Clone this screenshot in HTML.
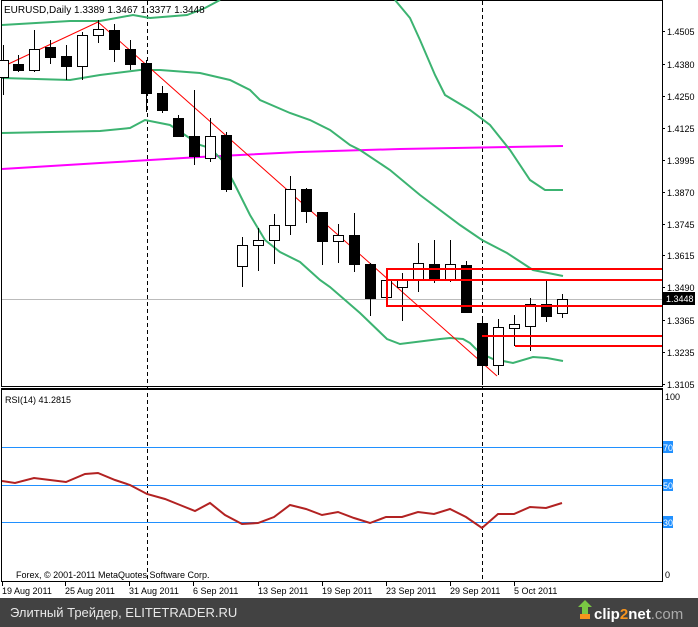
<!DOCTYPE html>
<html><head><meta charset="utf-8"><style>
html,body{margin:0;padding:0;background:#fff;}
svg{display:block;font-family:"Liberation Sans","DejaVu Sans",sans-serif;}
</style></head><body>
<svg width="698" height="627" viewBox="0 0 698 627" xmlns="http://www.w3.org/2000/svg">
<rect width="698" height="627" fill="#fff"/>
<!-- borders -->
<rect x="1.5" y="0.5" width="661" height="386" fill="none" stroke="#000"/>
<line x1="1" y1="388.5" x2="663" y2="388.5" stroke="#000"/>
<rect x="1.5" y="389.5" width="661" height="192" fill="none" stroke="#000"/>
<!-- gray current price -->
<line x1="2" y1="299.5" x2="662" y2="299.5" stroke="#bbb"/>
<!-- dashed verticals -->
<g stroke="#000" stroke-dasharray="4,3">
<line x1="147.5" y1="1" x2="147.5" y2="581"/>
<line x1="482.5" y1="1" x2="482.5" y2="581"/>
</g>
<!-- magenta -->
<polyline points="2,169 100,163 200,157 300,152 400,149 563,146" fill="none" stroke="#f0f" stroke-width="2"/>
<!-- green bands -->
<g fill="none" stroke="#3cb371" stroke-width="2">
<polyline points="2,25 70,21 100,21 133,15 150,18 187,15 205,8 220,0"/>
<polyline points="395,0 410,18 420,40 435,75 445,95 470,110 490,125 510,150 530,180 545,190 563,190"/>
<polyline points="2,78 70,80 100,75 140,70 160,70 200,73 230,80 250,90 260,100 290,113 310,120 330,130 350,145 360,150 390,170 420,195 460,225 482,240 507,253 533,270 563,276"/>
<polyline points="2,133 100,131 130,128 145,120 170,125 185,135 200,145 210,148 222,160 235,185 250,215 265,240 280,252 300,262 320,280 330,287 345,300 360,313 387,339 400,344 440,339 450,338 463,339 470,343 480,353 493,359 513,363 533,357 547,358 563,361"/>
</g>
<!-- red diagonal -->
<polyline points="2,67 98,22 497,376" fill="none" stroke="#f00" stroke-width="1"/>
<!-- candles -->
<g stroke="#000" stroke-width="1">
<line x1="3.5" y1="45" x2="3.5" y2="95"/><rect x="-1.5" y="60.5" width="10" height="17" fill="#fff"/>
<line x1="18.5" y1="55" x2="18.5" y2="72"/><rect x="13.5" y="64.5" width="10" height="6" fill="#000"/>
<line x1="34.5" y1="30" x2="34.5" y2="72"/><rect x="29.5" y="49.5" width="10" height="21" fill="#fff"/>
<line x1="50.5" y1="40" x2="50.5" y2="64"/><rect x="45.5" y="47.5" width="10" height="10" fill="#000"/>
<line x1="66.5" y1="45" x2="66.5" y2="80"/><rect x="61.5" y="56.5" width="10" height="10" fill="#000"/>
<line x1="82.5" y1="32" x2="82.5" y2="80"/><rect x="77.5" y="35.5" width="10" height="31" fill="#fff"/>
<line x1="98.5" y1="20" x2="98.5" y2="43"/><rect x="93.5" y="29.5" width="10" height="6" fill="#fff"/>
<line x1="114.5" y1="24" x2="114.5" y2="62"/><rect x="109.5" y="30.5" width="10" height="19" fill="#000"/>
<line x1="130.5" y1="40" x2="130.5" y2="70"/><rect x="125.5" y="49.5" width="10" height="15" fill="#000"/>
<line x1="146.5" y1="60" x2="146.5" y2="112"/><rect x="141.5" y="63.5" width="10" height="30" fill="#000"/>
<line x1="162.5" y1="86" x2="162.5" y2="113"/><rect x="157.5" y="93.5" width="10" height="17" fill="#000"/>
<line x1="178.5" y1="115" x2="178.5" y2="137"/><rect x="173.5" y="118.5" width="10" height="18" fill="#000"/>
<line x1="194.5" y1="90" x2="194.5" y2="165"/><rect x="189.5" y="136.5" width="10" height="20" fill="#000"/>
<line x1="210.5" y1="118" x2="210.5" y2="162"/><rect x="205.5" y="136.5" width="10" height="22" fill="#fff"/>
<line x1="226.5" y1="132" x2="226.5" y2="192"/><rect x="221.5" y="135.5" width="10" height="54" fill="#000"/>
<line x1="242.5" y1="237" x2="242.5" y2="287"/><rect x="237.5" y="245.5" width="10" height="21" fill="#fff"/>
<line x1="258.5" y1="228" x2="258.5" y2="271"/><rect x="253.5" y="240.5" width="10" height="5" fill="#fff"/>
<line x1="274.5" y1="214" x2="274.5" y2="264"/><rect x="269.5" y="225.5" width="10" height="15" fill="#fff"/>
<line x1="290.5" y1="176" x2="290.5" y2="235"/><rect x="285.5" y="189.5" width="10" height="36" fill="#fff"/>
<line x1="306.5" y1="188" x2="306.5" y2="223"/><rect x="301.5" y="189.5" width="10" height="22" fill="#000"/>
<line x1="322.5" y1="212" x2="322.5" y2="265"/><rect x="317.5" y="212.5" width="10" height="29" fill="#000"/>
<line x1="338.5" y1="224" x2="338.5" y2="263"/><rect x="333.5" y="235.5" width="10" height="6" fill="#fff"/>
<line x1="354.5" y1="213" x2="354.5" y2="272"/><rect x="349.5" y="235.5" width="10" height="29" fill="#000"/>
<line x1="370.5" y1="263" x2="370.5" y2="316"/><rect x="365.5" y="264.5" width="10" height="34" fill="#000"/>
<line x1="386.5" y1="274" x2="386.5" y2="305"/><rect x="381.5" y="280.5" width="10" height="17" fill="#fff"/>
<line x1="402.5" y1="273" x2="402.5" y2="321"/><rect x="397.5" y="280.5" width="10" height="7" fill="#fff"/>
<line x1="418.5" y1="243" x2="418.5" y2="292"/><rect x="413.5" y="263.5" width="10" height="17" fill="#fff"/>
<line x1="434.5" y1="240" x2="434.5" y2="283"/><rect x="429.5" y="264.5" width="10" height="16" fill="#000"/>
<line x1="450.5" y1="240" x2="450.5" y2="282"/><rect x="445.5" y="264.5" width="10" height="16" fill="#fff"/>
<line x1="466.5" y1="261" x2="466.5" y2="313"/><rect x="461.5" y="265.5" width="10" height="47" fill="#000"/>
<line x1="482.5" y1="320" x2="482.5" y2="385"/><rect x="477.5" y="323.5" width="10" height="42" fill="#000"/>
<line x1="498.5" y1="319" x2="498.5" y2="375"/><rect x="493.5" y="327.5" width="10" height="38" fill="#fff"/>
<line x1="514.5" y1="315" x2="514.5" y2="346"/><rect x="509.5" y="324.5" width="10" height="4" fill="#fff"/>
<line x1="530.5" y1="298" x2="530.5" y2="351"/><rect x="525.5" y="304.5" width="10" height="22" fill="#fff"/>
<line x1="546.5" y1="280" x2="546.5" y2="322"/><rect x="541.5" y="304.5" width="10" height="12" fill="#000"/>
<line x1="562.5" y1="294" x2="562.5" y2="318"/><rect x="557.5" y="299.5" width="10" height="14" fill="#fff"/>
</g>
<!-- red levels -->
<g stroke="#f00" stroke-width="2" fill="none">
<line x1="386" y1="269" x2="662" y2="269"/>
<line x1="386" y1="280" x2="662" y2="280"/>
<line x1="387" y1="268" x2="387" y2="306"/>
<line x1="386" y1="306" x2="662" y2="306"/>
<line x1="482" y1="336" x2="662" y2="336"/>
<line x1="515" y1="346" x2="662" y2="346"/>
</g>
<text x="4" y="13" font-size="10">EURUSD,Daily  1.3389 1.3467 1.3377 1.3448</text>
<!-- right axis -->
<g font-size="9" fill="#000">
<g stroke="#000"><line x1="662" y1="31.5" x2="665" y2="31.5"/><line x1="662" y1="64.5" x2="665" y2="64.5"/><line x1="662" y1="96.5" x2="665" y2="96.5"/><line x1="662" y1="128.5" x2="665" y2="128.5"/><line x1="662" y1="160.5" x2="665" y2="160.5"/><line x1="662" y1="192.5" x2="665" y2="192.5"/><line x1="662" y1="224.5" x2="665" y2="224.5"/><line x1="662" y1="255.5" x2="665" y2="255.5"/><line x1="662" y1="287.5" x2="665" y2="287.5"/><line x1="662" y1="320.5" x2="665" y2="320.5"/><line x1="662" y1="352.5" x2="665" y2="352.5"/><line x1="662" y1="384.5" x2="665" y2="384.5"/></g>
<text x="667" y="35">1.4505</text><text x="667" y="68">1.4380</text><text x="667" y="100">1.4250</text><text x="667" y="132">1.4125</text><text x="667" y="164">1.3995</text><text x="667" y="196">1.3870</text><text x="667" y="228">1.3745</text><text x="667" y="259">1.3615</text><text x="667" y="291">1.3490</text><text x="667" y="324">1.3365</text><text x="667" y="356">1.3235</text><text x="667" y="388">1.3105</text>
</g>
<rect x="663" y="292" width="32" height="13" fill="#000"/>
<text x="666" y="302" font-size="9" fill="#fff">1.3448</text>
<!-- RSI -->
<g stroke="#2090ff" stroke-width="1">
<line x1="2" y1="447.5" x2="662" y2="447.5"/>
<line x1="2" y1="485.5" x2="662" y2="485.5"/>
<line x1="2" y1="522.5" x2="662" y2="522.5"/>
</g>
<polyline points="2,481 15,483 34,478 50,480 66,482 85,474 98,473 115,480 130,485 147,494 165,499 180,505 195,511 210,503 225,515 242,524 258,523 274,517 290,505 306,509 322,515 338,512 354,518 370,523 386,517 402,517 418,512 434,514 450,509 466,517 482,528 498,514 514,514 530,507 546,508 562,503" fill="none" stroke="#b22222" stroke-width="2"/>
<text x="5" y="403" font-size="9">RSI(14) 41.2815</text>
<g font-size="9">
<text x="665" y="400">100</text>
<rect x="663" y="441" width="10" height="12" fill="#2090ff"/><text x="663" y="451" fill="#fff">70</text>
<rect x="663" y="479" width="10" height="12" fill="#2090ff"/><text x="663" y="489" fill="#fff">50</text>
<rect x="663" y="516" width="10" height="12" fill="#2090ff"/><text x="663" y="526" fill="#fff">30</text>
<text x="665" y="578">0</text>
</g>
<text x="16" y="578" font-size="9">Forex, © 2001-2011 MetaQuotes Software Corp.</text>
<!-- date axis -->
<g stroke="#000"><line x1="2.5" y1="581" x2="2.5" y2="586"/><line x1="65.5" y1="581" x2="65.5" y2="586"/><line x1="129.5" y1="581" x2="129.5" y2="586"/><line x1="193.5" y1="581" x2="193.5" y2="586"/><line x1="258.5" y1="581" x2="258.5" y2="586"/><line x1="322.5" y1="581" x2="322.5" y2="586"/><line x1="386.5" y1="581" x2="386.5" y2="586"/><line x1="450.5" y1="581" x2="450.5" y2="586"/><line x1="514.5" y1="581" x2="514.5" y2="586"/></g>
<g font-size="9">
<text x="2" y="594">19 Aug 2011</text><text x="65" y="594">25 Aug 2011</text><text x="129" y="594">31 Aug 2011</text><text x="193" y="594">6 Sep 2011</text><text x="258" y="594">13 Sep 2011</text><text x="322" y="594">19 Sep 2011</text><text x="386" y="594">23 Sep 2011</text><text x="450" y="594">29 Sep 2011</text><text x="514" y="594">5 Oct 2011</text>
</g>
<!-- footer -->
<rect x="0" y="598" width="698" height="29" fill="#424242"/>
<text x="10" y="617" font-size="13" fill="#e8e8e8" font-family="Liberation Sans, DejaVu Sans, sans-serif">Элитный Трейдер, ELITETRADER.RU</text>
<polygon points="578,607 585,600 592,607 588,607 588,616 582,616 582,607" fill="#7ac943"/>
<rect x="580" y="614" width="10" height="5" fill="#f7941d"/>
<text x="594" y="619" font-size="15" font-weight="bold" fill="#fff">clip<tspan fill="#f7941d">2</tspan>net<tspan fill="#aaa" font-weight="normal">.com</tspan></text>
</svg>
</body></html>
